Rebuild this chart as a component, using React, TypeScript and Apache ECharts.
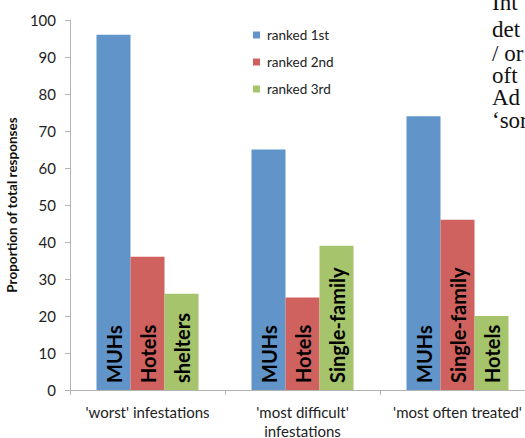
import React, { useEffect, useRef } from "react";
import * as echarts from "echarts";

const categories = ["'worst' infestations", "'most difficult'\ninfestations", "'most often treated'"];
const seriesNames = ["ranked 1st", "ranked 2nd", "ranked 3rd"];
const ranked1 = [96, 65, 74];
const ranked2 = [36, 25, 46];
const ranked3 = [26, 39, 20];
const labels1 = ["MUHs", "MUHs", "MUHs"];
const labels2 = ["Hotels", "Hotels", "Single-family"];
const labels3 = ["shelters", "Single-family", "Hotels"];
const colors = ["#6195c9", "#cf625e", "#a5c46b"];
const sideText = ["Int", "det", "/ or", "oft", "Ad", "\u2018sor"];
const sideBaselines = [10, 37, 61, 83, 105, 128];

const FONT = "Lato, 'Open Sans', sans-serif";

export default function App() {
  const ref = useRef<HTMLDivElement>(null);
  useEffect(() => {
    if (!ref.current) return;
    const chart = echarts.init(ref.current, undefined, { renderer: "svg" });
    const values = [ranked1, ranked2, ranked3];
    const labs = [labels1, labels2, labels3];
    const series = values.map((vals, i) => ({
      name: seriesNames[i],
      type: "bar",
      barWidth: 34,
      barGap: "0%",
      itemStyle: { color: colors[i] },
      data: vals.map((v, j) => ({ value: v, label: { formatter: labs[i][j] } })),
      label: {
        show: true,
        position: "insideBottom",
        rotate: 90,
        align: "left",
        verticalAlign: "middle",
        distance: 7,
        color: "#000",
        fontWeight: "bold",
        fontSize: 20,
        fontFamily: FONT,
      },
    }));
    chart.setOption({
      animation: false,
      color: colors,
      textStyle: { fontFamily: FONT },
      grid: {
        left: 70,
        top: 20,
        height: 370,
        width: 465,
        containLabel: false,
        outerBoundsMode: "none",
      },
      legend: {
        orient: "vertical",
        left: 253,
        top: 28,
        padding: 0,
        icon: "rect",
        itemWidth: 7,
        itemHeight: 7,
        itemGap: 13,
        data: seriesNames,
        textStyle: { fontSize: 13.5, color: "#222", fontFamily: FONT, lineHeight: 13, padding: [0, 0, 0, 2] },
      },
      xAxis: {
        type: "category",
        data: categories,
        axisLine: { lineStyle: { color: "#b3b3b3", width: 1 } },
        axisTick: { show: true, length: 5, lineStyle: { color: "#b3b3b3" }, alignWithLabel: false },
        axisLabel: { fontSize: 15, color: "#222", margin: 12, lineHeight: 19, fontFamily: FONT, interval: 0 },
      },
      yAxis: {
        type: "value",
        min: 0,
        max: 100,
        interval: 10,
        name: "Proportion of total responses",
        nameLocation: "middle",
        nameGap: 36,
        nameTextStyle: { fontSize: 13.5, fontWeight: "bold", color: "#111", fontFamily: FONT },
        axisLine: { show: true, lineStyle: { color: "#b3b3b3", width: 1 } },
        axisTick: { show: true, length: 5, lineStyle: { color: "#b3b3b3" } },
        axisLabel: { fontSize: 15, color: "#222", margin: 14, fontFamily: FONT },
        splitLine: { show: false },
      },
      graphic: sideText.map((t, i) => ({
        type: "text",
        left: 492,
        top: sideBaselines[i] - 19,
        style: {
          text: t,
          fontFamily: "'Liberation Serif', 'DejaVu Serif', serif",
          fontSize: 23,
          fill: "#111",
        },
      })),
      series,
    });
    return () => chart.dispose();
  }, []);
  return (
    <div
      ref={ref}
      style={{ position: "fixed", left: 0, top: 0, width: 525, height: 438, background: "#fff" }}
    />
  );
}
